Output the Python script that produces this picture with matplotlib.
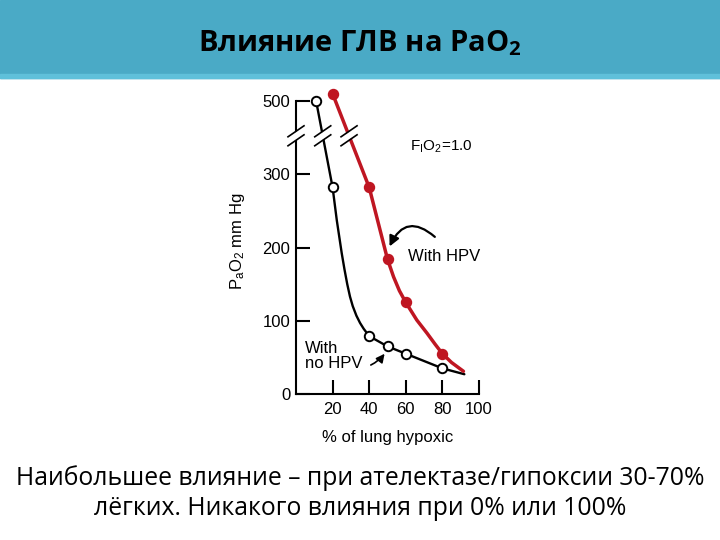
import numpy as np
import matplotlib
matplotlib.use("Agg")
import matplotlib.pyplot as plt
import matplotlib.transforms as mtransforms
from matplotlib.patches import Rectangle, Polygon

# -------------------------
# Data
# -------------------------

# % of lung hypoxic vs PaO2 (mm Hg), markers
no_hpv_x = [11, 20, 40, 50, 60, 80]
no_hpv_y = [500, 282, 79, 65, 55, 35]
hpv_x = [20, 40, 50, 60, 80]
hpv_y = [520, 282, 184, 125, 55]

# traced curves
no_hpv_curve_x = [11, 20, 22.3, 25, 26.5, 28, 29.5, 31, 33, 35, 37, 40,
                  45, 50, 55, 60, 70, 80, 86, 92]
no_hpv_curve_y = [500, 282, 237, 192, 170, 150, 133, 120, 107, 97, 89, 79,
                  72, 65, 60, 55, 45, 35, 31, 27]
hpv_curve_x = [20, 40, 50, 53.3, 56.5, 60, 66, 71.6, 76, 80, 85, 91.5]
hpv_curve_y = [520, 282, 184, 160, 141, 125, 101, 83, 68, 55, 43, 31]

x_ticks = [20, 40, 60, 80, 100]
y_ticks = [0, 100, 200, 300, 500]

title = "Влияние ГЛВ на Pa$\\mathregular{O_2}$"
caption = ("Наибольшее влияние – при ателектазе/гипоксии 30-70%\n"
           "лёгких. Никакого влияния при 0% или 100%")

RED = "#bf1622"
BANNER = "#4aaac6"


# broken y axis: values above 300 are compressed
def fwd(v):
    v = np.asarray(v, dtype=float)
    return np.where(v <= 300, v, 300 + (v - 300) / 2)


def inv(u):
    u = np.asarray(u, dtype=float)
    return np.where(u <= 300, u, 300 + (u - 300) * 2)


fig = plt.figure(figsize=(7.2, 5.4), dpi=100)

# -------------------------
# Title banner
# -------------------------
fig.patches.append(Rectangle((0, 1 - 78 / 540), 1, 78 / 540,
                             transform=fig.transFigure, color=BANNER, zorder=0))
fig.patches.append(Rectangle((0, 1 - 78 / 540), 1, 4 / 540,
                             transform=fig.transFigure, color="#5fc0da", zorder=0))
fig.text(0.5, 1 - 43 / 540, title, ha="center", va="center",
         fontsize=21, fontweight="bold", family="Open Sans", color="black")

fig.text(0.5, 1 - 493 / 540, caption, ha="center", va="center",
         fontsize=17.8, family="Open Sans", linespacing=1.25, color="black")

# -------------------------
# Chart
# -------------------------
ax = fig.add_axes([296 / 720, 1 - 394 / 540, 183 / 720, 293 / 540])
ax.set_yscale("function", functions=(fwd, inv))
ax.set_xlim(0, 100)
ax.set_ylim(0, 500)

font = "Liberation Sans"

ax.plot(no_hpv_curve_x, no_hpv_curve_y, color="black", lw=1.7, zorder=3,
        solid_capstyle="round", solid_joinstyle="round", clip_on=False)
ax.plot(hpv_curve_x, hpv_curve_y, color=RED, lw=2.5, zorder=3,
        solid_capstyle="round", solid_joinstyle="round", clip_on=False)
ax.plot(no_hpv_x, no_hpv_y, "o", ms=6.8, mfc="white", mec="black", mew=1.4,
        zorder=6, clip_on=False)
ax.plot(hpv_x, hpv_y, "o", ms=7.2, mfc=RED, mec=RED, zorder=6, clip_on=False)

for s in ["top", "right"]:
    ax.spines[s].set_visible(False)
for s in ["left", "bottom"]:
    ax.spines[s].set_linewidth(1.5)
ax.spines["left"].set_bounds(0, 500)

ax.set_xticks(x_ticks)
ax.set_xticklabels([str(t) for t in x_ticks], family=font, fontsize=12)
ax.set_yticks(y_ticks)
ax.set_yticklabels([str(t) for t in y_ticks], family=font, fontsize=12)
ax.tick_params(direction="in", length=10, width=1.5, pad=4)
ax.tick_params(axis="x", pad=6)
ax.minorticks_off()

ax.set_xlabel("% of lung hypoxic", family=font, fontsize=12, labelpad=9)
ax.set_ylabel("$\\mathregular{P_aO_2}$ mm Hg", family=font, fontsize=12)
ax.yaxis.set_label_coords(-0.27, 0.52)

# axis break marks
break_y = 405
break_x = [0,
           float(np.interp(fwd(break_y), fwd(no_hpv_curve_y[1::-1]), no_hpv_curve_x[1::-1])),
           float(np.interp(fwd(break_y), fwd(hpv_curve_y[1::-1]), hpv_curve_x[1::-1]))]
for bx in break_x:
    off = mtransforms.ScaledTranslation(bx, break_y, ax.transData)
    tr = fig.dpi_scale_trans + off
    gap = Polygon([(-0.07, -0.01), (0.07, 0.09), (0.07, 0.01), (-0.07, -0.09)],
                  closed=True, fc="white", ec="none", transform=tr,
                  zorder=7, clip_on=False)
    ax.add_patch(gap)
    for dy in (0.045, -0.045):
        ax.plot([-0.08, 0.08], [dy - 0.055, dy + 0.055], color="black", lw=1.2,
                transform=tr, zorder=8, clip_on=False)

# annotations
ax.text(62.5, 375, "F$\\mathregular{_I}$O$\\mathregular{_2}$=1.0",
        family=font, fontsize=11, va="center", ha="left")
ax.text(61.4, 188, "With HPV", family=font, fontsize=12, va="center", ha="left")
ax.annotate("", xy=(50.5, 198), xytext=(77, 212),
            arrowprops=dict(arrowstyle="-|>,head_length=0.6,head_width=0.3",
                            color="black", lw=1.6,
                            connectionstyle="arc3,rad=0.7"))
ax.text(4.9, 52, "With\nno HPV", family=font, fontsize=12, va="center",
        ha="left", linespacing=1.0)
ax.annotate("", xy=(49.3, 58), xytext=(39.5, 38),
            arrowprops=dict(arrowstyle="-|>,head_length=0.5,head_width=0.25",
                            color="black", lw=1.2,
                            connectionstyle="arc3,rad=0.15"))

fig.savefig("out.png", dpi=100)
